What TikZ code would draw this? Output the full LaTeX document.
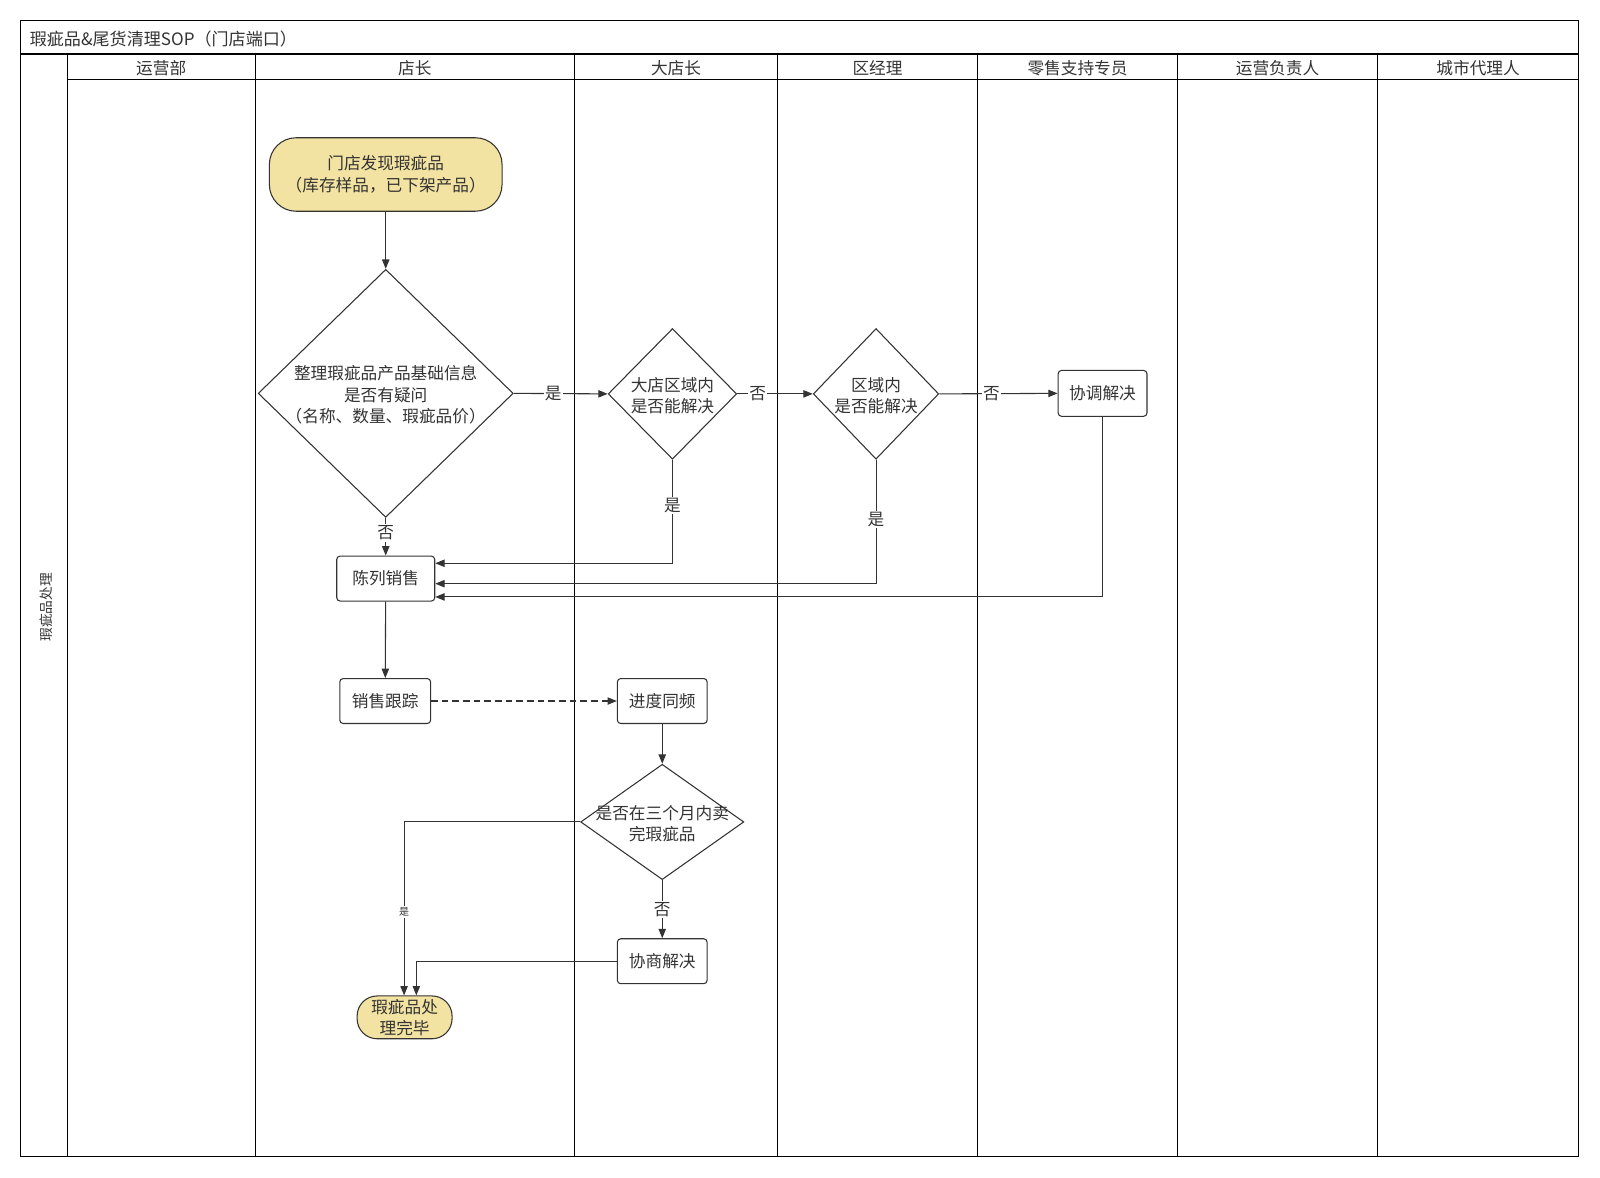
\documentclass[tikz,border=0pt]{standalone}
\usepackage{fontspec}
\setmainfont{Noto Sans CJK SC}
\usetikzlibrary{shapes.geometric,arrows.meta,calc}
\definecolor{fillY}{HTML}{F3E3A2}
\definecolor{lineC}{HTML}{333333}
\begin{document}
\begin{tikzpicture}[x=0.7653pt,y=-0.7653pt,
  font=\fontsize{12.5}{16}\selectfont,
  frame/.style={line width=0.9pt, draw=black},
  box/.style={draw=lineC, line width=0.8pt, rounded corners=2.5pt, fill=white, inner sep=0pt, align=center, text=lineC},
  term/.style={draw=lineC, line width=0.8pt, fill=fillY, inner sep=0pt, align=center, text=lineC},
  dia/.style={draw=lineC, line width=0.8pt, diamond, fill=white, inner sep=0pt},
  dtext/.style={align=center, text=lineC, inner sep=0pt, yshift=-1.2pt},
  arr/.style={draw=lineC, line width=0.8pt, -{Triangle[length=7pt,width=5.5pt]}},
  lbl/.style={fill=white, inner sep=1pt, text=lineC},
  hdr/.style={text=lineC, inner sep=0pt}
]
\useasboundingbox (0,0) rectangle (1568,1154);
% frame
\draw[frame] (20,20) rectangle (1547,1133);
\draw[frame] (20,53) -- (1547,53);
\draw[frame] (66,78) -- (1547,78);
\foreach \xx in {66,250,563,762,958,1154,1350}
  \draw[frame] (\xx,53) -- (\xx,1133);
\node[hdr, anchor=west, font=\fontsize{12.8}{14}\selectfont] (title) at (29,38) {瑕疵品\&尾货清理SOP（门店端口）};
\node[hdr] (h1) at (158,67) {运营部};
\node[hdr] (h2) at (406.5,67) {店长};
\node[hdr] (h3) at (662.5,67) {大店长};
\node[hdr] (h4) at (860,67) {区经理};
\node[hdr] (h5) at (1056,67) {零售支持专员};
\node[hdr] (h6) at (1252,67) {运营负责人};
\node[hdr] (h7) at (1448.5,67) {城市代理人};
\node[hdr, rotate=90, font=\fontsize{10.3}{12}\selectfont] (lane) at (45,595) {瑕疵品处理};

% nodes
\node[term, rounded corners=20pt, minimum width=174.5pt, minimum height=55.1pt] (start) at (378,171) {门店发现瑕疵品\\（库存样品，已下架产品）};
\node[dia, minimum width=191.3pt, minimum height=186pt] (d1) at (378,385.5) {};
\node[dtext] (d1t) at (d1.center) {整理瑕疵品产品基础信息\\是否有疑问\\（名称、数量、瑕疵品价）};
\node[dia, minimum width=96.4pt, minimum height=98pt] (d2) at (659,386) {};
\node[dtext] (d2t) at (d2.center) {大店区域内\\是否能解决};
\node[dia, minimum width=94.1pt, minimum height=98pt] (d3) at (858.5,386) {};
\node[dtext] (d3t) at (d3.center) {区域内\\是否能解决};
\node[box, minimum width=66.6pt, minimum height=34.4pt] (xt) at (1080.5,385.5) {协调解决};
\node[box, minimum width=73.5pt, minimum height=33.7pt] (cl) at (378,567) {陈列销售};
\node[box, minimum width=68.1pt, minimum height=33.7pt] (xg) at (377.5,687) {销售跟踪};
\node[box, minimum width=67.3pt, minimum height=33.7pt] (jd) at (649,687) {进度同频};
\node[dia, minimum width=122.4pt, minimum height=86.5pt] (d4) at (649,805.5) {};
\node[dtext] (d4t) at (d4.center) {是否在三个月内卖\\完瑕疵品};
\node[box, minimum width=67.3pt, minimum height=33.7pt] (xs) at (649,942) {协商解决};
\node[term, rounded corners=15pt, minimum width=71.2pt, minimum height=32.1pt] (end) at (396.5,997) {瑕疵品处\\理完毕};

% connectors
\draw[arr] (start) -- (d1);
\draw[arr] (d1.east) -- node[lbl, pos=0.42] {是} (d2.west);
\draw[arr] (d2.east) -- node[lbl, pos=0.27] {否} (d3.west);
\draw[arr] (d3.east) -- node[lbl, pos=0.44] {否} (xt.west);
\draw[arr] (d1.south) -- node[lbl, pos=0.4] {否} (cl.north);
\draw[arr] (d2.south) |- node[lbl, pos=0.22] {是} ($(cl.east)+(0,-15)$);
\draw[arr] (d3.south) |- node[lbl, pos=0.24] {是} ($(cl.east)+(0,5)$);
\draw[arr] (xt.south) |- ($(cl.east)+(0,18)$);
\draw[arr] (cl) -- (xg);
\draw[arr, dash pattern=on 5pt off 3pt] (xg) -- (jd);
\draw[arr] (jd) -- (d4.north);
\draw[arr] (d4.south) -- node[lbl, pos=0.5] {否} (xs.north);
\draw[arr] (d4.west) -| node[lbl, pos=0.76, font=\fontsize{7.5}{9}\selectfont] {是} ($(end.north)+(-0.5,0)$);
\draw[arr] (xs.west) -| ($(end.north)+(11.5,0)$);
\end{tikzpicture}
\end{document}
